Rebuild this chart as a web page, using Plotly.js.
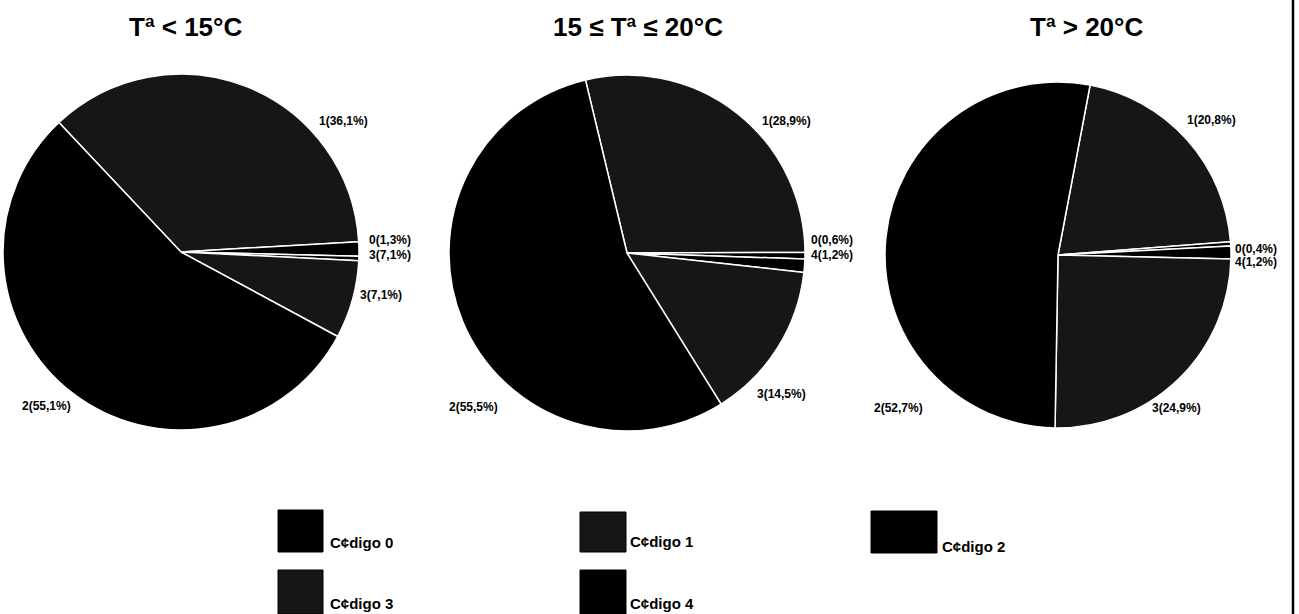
<!DOCTYPE html>
<html>
<head>
<meta charset="utf-8">
<script src="https://cdn.plot.ly/plotly-3.0.1.min.js"></script>
<style>
html,body{margin:0;padding:0;background:#fff;}
#chart{width:1299px;height:614px;}
</style>
</head>
<body>
<div id="chart"></div>
<script>
// ---- data ----
const panelTitles = ['Tª < 15°C', '15 ≤ Tª ≤ 20°C', 'Tª > 20°C'];
const legendCodes = ['0', '1', '2', '3', '4'];
const legendLabels = ['C¢digo 0', 'C¢digo 1', 'C¢digo 2', 'C¢digo 3', 'C¢digo 4'];

const sliceCodesLow = ['1', '0', '4', '3', '2'];
const valuesLow = [36.1, 1.3, 0.4, 7.1, 55.1];
const textLow = ['1(36,1%)', '0(1,3%)', '3(7,1%)', '3(7,1%)', '2(55,1%)'];

const sliceCodesMid = ['1', '0', '4', '3', '2'];
const valuesMid = [28.9, 0.6, 1.2, 14.5, 55.5];
const textMid = ['1(28,9%)', '0(0,6%)', '4(1,2%)', '3(14,5%)', '2(55,5%)'];

const sliceCodesHigh = ['1', '0', '4', '3', '2'];
const valuesHigh = [20.8, 0.4, 1.2, 24.9, 52.7];
const textHigh = ['1(20,8%)', '0(0,4%)', '4(1,2%)', '3(24,9%)', '2(52,7%)'];

// ---- styling ----
const W = 1299, H = 614;
const codeColors = {'0': '#000000', '1': '#161616', '2': '#000000', '3': '#161616', '4': '#000000'};
const pies = [
  {codes: sliceCodesLow, values: valuesLow, text: textLow, cx: 181, cy: 252, r: 178, rot: -43.3,
   labelPos: [[317, 121], [367, 240], [367, 255], [358, 295], [20, 406]]},
  {codes: sliceCodesMid, values: valuesMid, text: textMid, cx: 627, cy: 253, r: 178, rot: -13.5,
   labelPos: [[760, 121], [809, 240], [809, 255], [755, 394], [447, 407]]},
  {codes: sliceCodesHigh, values: valuesHigh, text: textHigh, cx: 1058, cy: 255, r: 173, rot: 10.7,
   labelPos: [[1185, 120], [1233, 249], [1233, 262], [1150, 408], [872, 408]]}
];
const titleX = [185, 638, 1086];
const titleY = 27;

const px = x => x / W;
const py = y => 1 - y / H;

const traces = pies.map((p, i) => ({
  type: 'pie',
  labels: p.codes.map(c => 'Código ' + c),
  values: p.values,
  text: p.text,
  sort: false,
  direction: 'clockwise',
  rotation: p.rot,
  textinfo: 'none',
  hoverinfo: 'text',
  showlegend: false,
  marker: {colors: p.codes.map(c => codeColors[c]), line: {color: '#ffffff', width: 1.5}},
  domain: {x: [px(p.cx - p.r), px(p.cx + p.r)], y: [py(p.cy + p.r), py(p.cy - p.r)]}
}));

const annotations = [];
panelTitles.forEach((t, i) => {
  annotations.push({text: '<b>' + t + '</b>', xref: 'paper', yref: 'paper', x: px(titleX[i]), y: py(titleY),
    xanchor: 'center', yanchor: 'middle', showarrow: false,
    font: {family: 'Liberation Sans, Arial, sans-serif', size: 26, color: '#000'}});
});
pies.forEach(p => {
  p.text.forEach((t, j) => {
    annotations.push({text: '<b>' + t + '</b>', xref: 'paper', yref: 'paper',
      x: px(p.labelPos[j][0]), y: py(p.labelPos[j][1]), xanchor: 'left', yanchor: 'middle', showarrow: false,
      font: {family: 'Liberation Sans, Arial, sans-serif', size: 12, color: '#000'}});
  });
});

// legend keys
const legendBoxes = [
  [278, 510, 323, 552, 328, 542],
  [580, 512, 626, 552, 628, 541],
  [871, 511, 937, 553, 940, 546],
  [278, 570, 323, 614, 328, 603],
  [580, 570, 626, 614, 628, 603]
];
const shapes = [];
legendCodes.forEach((c, i) => {
  const b = legendBoxes[i];
  shapes.push({type: 'rect', xref: 'paper', yref: 'paper', x0: px(b[0]), x1: px(b[2]), y0: py(b[3]), y1: py(b[1]),
    fillcolor: codeColors[c], line: {color: '#000', width: 1}});
  annotations.push({text: '<b>' + legendLabels[i] + '</b>', xref: 'paper', yref: 'paper', x: px(b[4]), y: py(b[5]),
    xanchor: 'left', yanchor: 'middle', showarrow: false,
    font: {family: 'Liberation Sans, Arial, sans-serif', size: 15, color: '#000'}});
});
// right page border
shapes.push({type: 'line', xref: 'paper', yref: 'paper', x0: px(1293), x1: px(1293), y0: 0, y1: 1,
  line: {color: '#000', width: 2.5}});

Plotly.newPlot('chart', traces, {
  width: W, height: H,
  margin: {l: 0, r: 0, t: 0, b: 0},
  paper_bgcolor: '#ffffff',
  annotations: annotations,
  shapes: shapes
}, {displayModeBar: false, staticPlot: true});
</script>
</body>
</html>
